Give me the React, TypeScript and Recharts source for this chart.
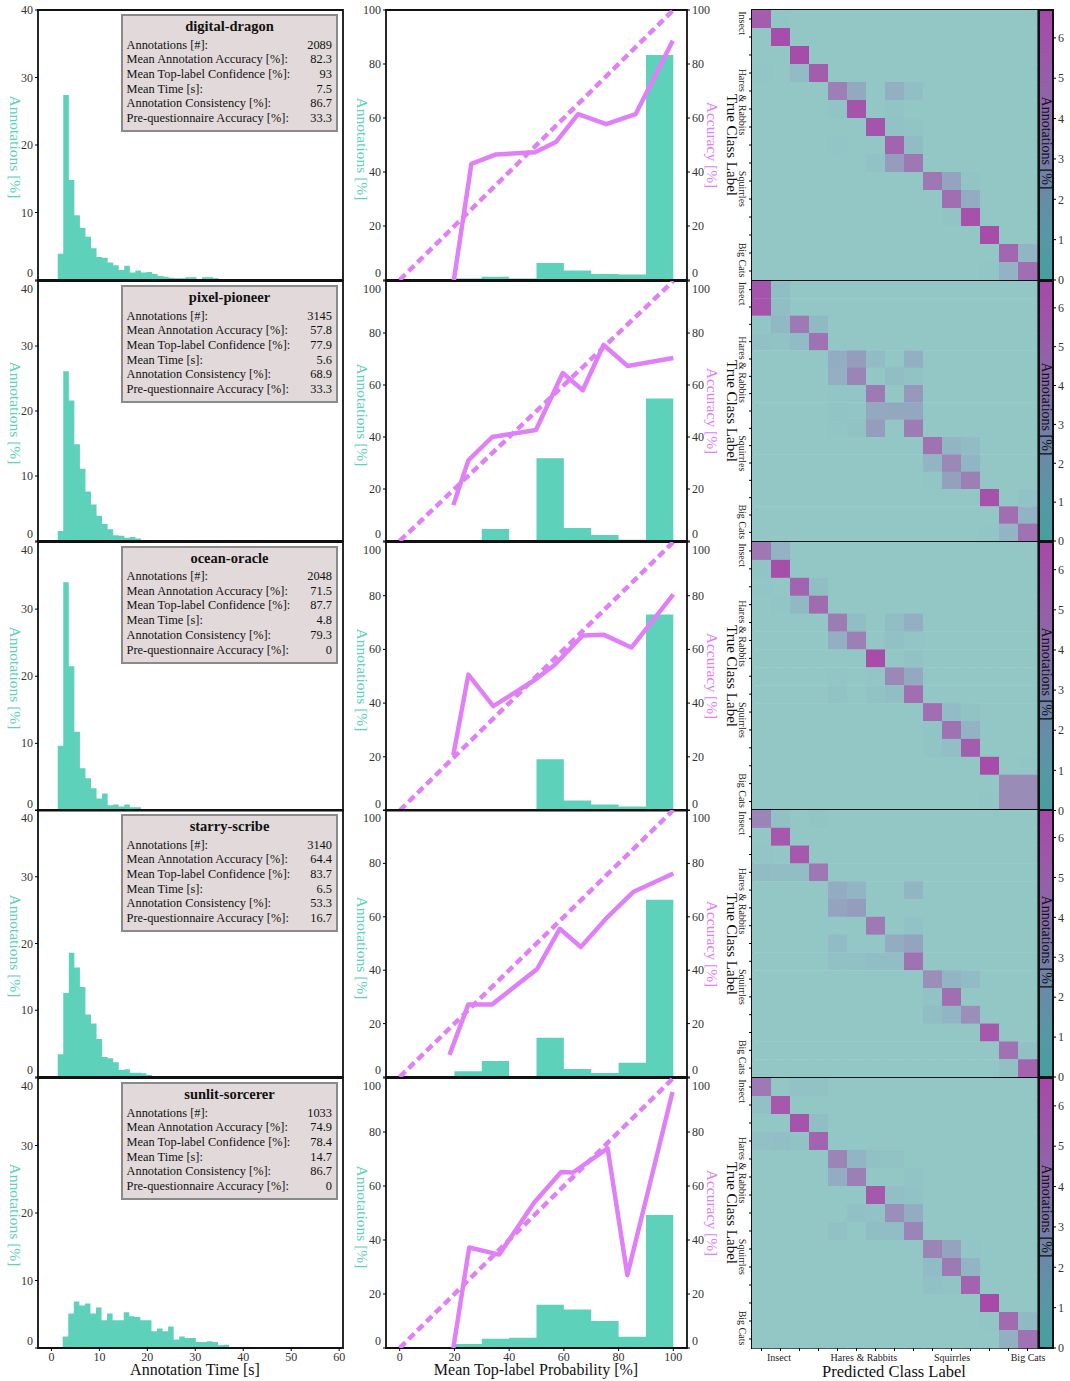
import React from "react";
import {
  ComposedChart,
  ScatterChart,
  Area,
  Line,
  Scatter,
  XAxis,
  YAxis,
  ReferenceArea,
} from "recharts";

// ---- data ----
const annotators = ["digital-dragon", "pixel-pioneer", "ocean-oracle", "starry-scribe", "sunlit-sorcerer"];

const statLabels = [
  "Annotations [#]:",
  "Mean Annotation Accuracy [%]:",
  "Mean Top-label Confidence [%]:",
  "Mean Time [s]:",
  "Annotation Consistency [%]:",
  "Pre-questionnaire Accuracy [%]:",
];

const statValues = [
  ["2089", "82.3", "93", "7.5", "86.7", "33.3"],
  ["3145", "57.8", "77.9", "5.6", "68.9", "33.3"],
  ["2048", "71.5", "87.7", "4.8", "79.3", "0"],
  ["3140", "64.4", "83.7", "6.5", "53.3", "16.7"],
  ["1033", "74.9", "78.4", "14.7", "86.7", "0"],
];

// annotation time histograms (% of annotations per bin)
const timeBinWidth = 1.157;
const timeBinStart = [1.31, 1.31, 1.31, 1.31, 2.35];
const timeHist = [
  [3.9, 27.4, 14.8, 9.6, 7.7, 6.4, 4.7, 3.4, 3.3, 2.6, 2.2, 1.5, 2.1, 1.1, 1.4, 1.1, 1.2, 0.9, 0.6, 0.5, 0.35, 0.25, 0.25, 0.4, 0.4, 0.15, 0.4, 0.4, 0.25],
  [1.55, 26.1, 21.6, 14.9, 11.1, 7.6, 5.6, 3.9, 2.6, 1.8, 0.9, 0.8, 0.5, 0.6, 0.4],
  [9.65, 34.0, 21.5, 11.75, 6.3, 4.8, 3.3, 1.8, 2.55, 0.8, 0.9, 0.6, 0.9, 0.5, 0.5],
  [3.4, 12.6, 18.6, 16.4, 13.5, 9.35, 8.0, 5.7, 3.0, 2.8, 2.2, 1.05, 1.15, 0.65, 0.65, 0.55, 0.3],
  [1.7, 5.1, 6.9, 6.3, 6.6, 5.1, 6.0, 4.1, 5.1, 4.1, 4.1, 5.3, 4.7, 4.6, 4.1, 4.1, 2.5, 2.9, 2.5, 3.2, 1.25, 1.7, 1.5, 1.5, 0.9, 0.9, 1.0, 0.9, 0.4, 0.5],
];
const timeTicks = [0, 10, 20, 30, 40, 50, 60];
const countTicks = [0, 10, 20, 30, 40];

// top-label confidence histograms, bins of 10 %
const confBins = [0, 10, 20, 30, 40, 50, 60, 70, 80, 90, 100];
const confHist = [
  [0, 0, 0.6, 1.2, 0.6, 6.3, 3.5, 2.2, 2.0, 83.3],
  [0, 0, 0.3, 4.6, 0.3, 31.8, 5.0, 2.3, 0.5, 54.8],
  [0, 0, 0, 0.5, 0.1, 19.1, 3.7, 2.2, 1.5, 73.0],
  [0, 0, 2.2, 6.0, 0, 14.7, 3.0, 1.5, 5.3, 66.4],
  [0, 0, 1.5, 3.4, 3.8, 16.0, 14.3, 10.0, 4.2, 49.3],
];
const probTicks = [0, 20, 40, 60, 80, 100];

// accuracy per confidence bin (x = mean confidence, y = accuracy)
const accX = [
  [19.8, 26.2, 35.2, 49.5, 57.1, 65.2, 75.5, 86.2, 99.8],
  [19.6, 25.1, 33.8, 49.8, 59.6, 66.9, 74.5, 83.3, 100],
  [19.6, 25.1, 34.2, 49.5, 56.7, 66.9, 74.5, 84.7, 100],
  [18.2, 25.1, 33.8, 50.2, 58.5, 66.2, 75.3, 85.5, 100],
  [19.6, 25.4, 36.4, 49.1, 59.0, 63.3, 76.0, 83.2, 99.7],
];
const accY = [
  [0, 43, 46.5, 47.3, 51.1, 61.4, 57.7, 61.4, 88.6],
  [13.8, 31, 40, 42.7, 64.6, 58, 75.4, 67.3, 70.4],
  [20.6, 50.6, 38.9, 48.7, 54.3, 65.2, 65.5, 60.7, 80.5],
  [8.3, 27.2, 27.2, 40.4, 55.5, 48.7, 59.2, 69.4, 76.2],
  [0, 37.2, 34.6, 53.8, 65.2, 65, 73.9, 27, 94.8],
];
const diagonal = [
  { x: 0, y: 0 },
  { x: 100, y: 100 },
];

// confusion matrices: [true row, predicted col, % of annotations], empty cells are 0
const classNames = ["Insect", "Hares & Rabbits", "Squirrles", "Big Cats"];
const classCount = 15;
const confusion: [number, number, number][][] = [
  [
    [0, 0, 5.8], [0, 1, 0.15], [1, 1, 6.4], [2, 2, 6.5],
    [3, 0, 0.1], [3, 2, 1.0], [3, 3, 5.8],
    [4, 4, 4.2], [4, 5, 2.2], [4, 7, 1.8], [4, 8, 0.7],
    [5, 4, 0.3], [5, 5, 6.2], [5, 7, 0.3],
    [6, 6, 6.2], [6, 7, 0.5], [6, 8, 0.3],
    [7, 4, 0.2], [7, 7, 5.5], [7, 8, 1.0],
    [8, 6, 0.5], [8, 7, 2.8], [8, 8, 4.6],
    [9, 9, 4.6], [9, 10, 2.5], [9, 11, 0.3],
    [10, 10, 5.0], [10, 11, 2.0],
    [11, 10, 0.3], [11, 11, 6.3],
    [12, 12, 6.5],
    [13, 13, 5.3], [13, 14, 1.5],
    [14, 12, 0.2], [14, 13, 1.6], [14, 14, 5.0],
  ],
  [
    [0, 0, 6.2], [0, 1, 0.8], [1, 0, 6.2], [1, 1, 0.8],
    [2, 0, 0.2], [2, 1, 1.2], [2, 2, 4.5], [2, 3, 1.2],
    [3, 0, 0.6], [3, 1, 0.4], [3, 2, 1.0], [3, 3, 4.8],
    [4, 4, 2.0], [4, 5, 2.8], [4, 6, 1.0], [4, 8, 1.8],
    [5, 4, 1.8], [5, 5, 4.0], [5, 7, 0.8], [5, 8, 0.4],
    [6, 4, 0.1], [6, 5, 0.2], [6, 6, 4.5], [6, 8, 3.0],
    [7, 4, 0.3], [7, 5, 0.2], [7, 6, 2.2], [7, 7, 2.3], [7, 8, 2.3],
    [8, 4, 0.1], [8, 5, 0.4], [8, 6, 2.8], [8, 8, 4.4],
    [9, 9, 4.8], [9, 10, 1.5], [9, 11, 1.0],
    [10, 9, 1.5], [10, 10, 3.8], [10, 11, 1.4],
    [11, 9, 0.1], [11, 10, 2.6], [11, 11, 4.2],
    [12, 12, 6.3], [12, 14, 0.5],
    [13, 13, 5.0], [13, 14, 1.6],
    [14, 12, 0.1], [14, 13, 1.5], [14, 14, 4.8],
  ],
  [
    [0, 0, 4.6], [0, 1, 1.6], [1, 0, 0.3], [1, 1, 6.4],
    [2, 0, 0.1], [2, 2, 5.5], [2, 3, 0.8],
    [3, 1, 0.1], [3, 2, 1.2], [3, 3, 5.2],
    [4, 4, 4.4], [4, 5, 0.8], [4, 7, 0.8], [4, 8, 1.8],
    [5, 4, 1.8], [5, 5, 4.2], [5, 7, 0.6], [5, 8, 0.2],
    [6, 6, 6.5], [6, 8, 0.4],
    [7, 4, 0.1], [7, 6, 0.2], [7, 7, 3.8], [7, 8, 2.2],
    [8, 4, 0.4], [8, 6, 0.4], [8, 7, 0.8], [8, 8, 5.0],
    [9, 9, 5.0], [9, 10, 1.0], [9, 11, 0.4],
    [10, 9, 0.3], [10, 10, 4.8], [10, 11, 1.6],
    [11, 9, 0.3], [11, 10, 0.7], [11, 11, 5.8],
    [12, 12, 6.5], [12, 14, 0.1],
    [13, 13, 3.6], [13, 14, 3.6],
    [14, 12, 0.1], [14, 13, 3.6], [14, 14, 3.6],
  ],
  [
    [0, 0, 4.0], [0, 1, 0.6], [0, 3, 0.3], [1, 1, 6.0],
    [2, 0, 0.2], [2, 2, 6.0],
    [3, 0, 1.0], [3, 1, 0.8], [3, 2, 0.8], [3, 3, 4.6],
    [4, 4, 2.0], [4, 5, 1.5], [4, 8, 1.5],
    [5, 4, 2.5], [5, 5, 2.8],
    [6, 6, 4.5], [6, 8, 0.5],
    [7, 4, 1.0], [7, 7, 2.0], [7, 8, 2.5],
    [8, 4, 0.6], [8, 5, 0.6], [8, 6, 0.8], [8, 7, 0.8], [8, 8, 4.8],
    [9, 9, 3.5], [9, 10, 1.5], [9, 11, 1.0],
    [10, 9, 0.4], [10, 10, 5.0],
    [11, 9, 0.8], [11, 10, 1.5], [11, 11, 3.5],
    [12, 12, 6.0],
    [13, 13, 4.8], [13, 14, 0.6],
    [14, 13, 0.6], [14, 14, 5.5],
  ],
  [
    [0, 0, 4.5], [0, 2, 0.5], [0, 3, 0.4],
    [1, 0, 0.6], [1, 1, 6.0],
    [2, 2, 6.2], [2, 3, 0.8],
    [3, 0, 0.6], [3, 1, 0.7], [3, 2, 0.4], [3, 3, 5.5],
    [4, 4, 4.0], [4, 5, 1.5], [4, 6, 0.6], [4, 7, 0.4],
    [5, 4, 2.0], [5, 5, 4.2], [5, 8, 0.3],
    [6, 6, 6.0], [6, 7, 0.7], [6, 8, 0.5],
    [7, 5, 0.6], [7, 6, 0.5], [7, 7, 3.5], [7, 8, 2.0],
    [8, 4, 0.6], [8, 6, 0.8], [8, 7, 0.8], [8, 8, 4.0],
    [9, 9, 4.0], [9, 10, 2.5], [9, 11, 0.2],
    [10, 9, 1.0], [10, 10, 4.5], [10, 11, 1.5],
    [11, 9, 0.6], [11, 10, 0.3], [11, 11, 5.5],
    [12, 12, 6.6],
    [13, 12, 0.1], [13, 13, 5.2], [13, 14, 1.2],
    [14, 13, 1.8], [14, 14, 4.8],
  ],
];
const colorbarTicks = [0, 1, 2, 3, 4, 5, 6];
const colorbarMax = 6.69;

// ---- layout / style ----
const FONT = '"Liberation Serif", "Times New Roman", "DejaVu Serif", serif';
const TEAL = "#5DD1B9";
const VIOLET = "#DF80F6";
const rowTop = [10, 281, 541.5, 810, 1078];
const rowBottom = [280, 541, 810, 1077, 1348];
const M_TOP = 10;
const X_H = 26;
const TICK_FS = 12;
const timeDomain: [number, number] = [-2.8, 60.8];
const probDomain: [number, number] = [-5, 105];
const xTickStyle = { fontSize: TICK_FS, fill: "#333", fontFamily: FONT };

// which tick carries a class name, and how far (in cells) the name is nudged from it
const classTickX = [1, 5, 10, 14];
const classNudgeX = [-0.08, 0.39, 0.03, 0.03];
const classTickY = [0, 5, 9, 13];
const classNudgeY = [0.23, -0.39, 0.44, 0.39];

const cbStops: [number, number[]][] = [
  [0, [70, 160, 158]],
  [0.15, [86, 152, 166]],
  [0.3, [102, 140, 168]],
  [0.45, [120, 123, 168]],
  [0.6, [136, 108, 168]],
  [0.75, [150, 94, 168]],
  [1, [168, 72, 168]],
];

function cbColor(f: number) {
  const t = Math.max(0, Math.min(1, f));
  for (let i = 1; i < cbStops.length; i++) {
    const [f0, c0] = cbStops[i - 1];
    const [f1, c1] = cbStops[i];
    if (t <= f1) {
      const k = (t - f0) / (f1 - f0);
      return c0.map((c, j) => c + (c1[j] - c) * k);
    }
  }
  return cbStops[cbStops.length - 1][1];
}

function cellColor(v: number) {
  const f = Math.min(1, v / colorbarMax);
  const c = cbColor(f);
  const a = 0.59 + 0.41 * f;
  const m = c.map((x) => Math.round(255 - a * (255 - x)));
  return `rgb(${m[0]},${m[1]},${m[2]})`;
}

function edgeTick(row: number, top: number, anchor: "start" | "end") {
  return (props: any) => {
    const { x, y, payload } = props;
    let dy = 0;
    if (payload.value === 0) dy = -7;
    else if (payload.value === top && row > 0) dy = 8;
    return (
      <text x={x} y={y + dy} textAnchor={anchor} dominantBaseline="central" fontSize={TICK_FS} fill="#333" fontFamily={FONT}>
        {payload.value}
      </text>
    );
  };
}

function TimePanel({ row }: { row: number }) {
  const h = rowBottom[row] - rowTop[row];
  const values = timeHist[row];
  const data = values.map((v, i) => ({ t: timeBinStart[row] + i * timeBinWidth, v }));
  data.push({ t: timeBinStart[row] + values.length * timeBinWidth, v: 0 });
  const last = row === 4;
  return (
    <div style={{ position: "absolute", left: 8, top: rowTop[row] - M_TOP }}>
      <ComposedChart width={341} height={M_TOP + h + X_H} data={data} margin={{ top: M_TOP, right: 6, bottom: 0, left: 0 }}>
        <XAxis
          type="number"
          dataKey="t"
          domain={timeDomain}
          ticks={timeTicks}
          allowDataOverflow
          interval={0}
          height={X_H}
          axisLine={false}
          stroke="#000"
          tickSize={3}
          tickMargin={1}
          tick={last ? xTickStyle : false}
        />
        <YAxis
          type="number"
          domain={[0, 40]}
          ticks={countTicks}
          allowDataOverflow
          interval={0}
          width={30}
          axisLine={false}
          stroke="#000"
          tickSize={3}
          tick={edgeTick(row, 40, "end")}
        />
        <Area
          type="stepAfter"
          dataKey="v"
          stroke="none"
          fill={TEAL}
          fillOpacity={1}
          isAnimationActive={false}
          dot={false}
          activeDot={false}
        />
        <ReferenceArea x1={timeDomain[0]} x2={timeDomain[1]} y1={0} y2={40} fill="none" stroke="#111" strokeWidth={1.8} />
      </ComposedChart>
    </div>
  );
}

function ConfPanel({ row }: { row: number }) {
  const h = rowBottom[row] - rowTop[row];
  const bars = confBins.map((b, i) => ({ x: b, bar: i < confHist[row].length ? confHist[row][i] : 0 }));
  const acc = accX[row].map((x, i) => ({ x, y: accY[row][i] }));
  const last = row === 4;
  return (
    <div style={{ position: "absolute", left: 356, top: rowTop[row] - M_TOP }}>
      <ComposedChart width={361} height={M_TOP + h + X_H} data={bars} margin={{ top: M_TOP, right: 0, bottom: 0, left: 0 }}>
        <XAxis
          type="number"
          dataKey="x"
          domain={probDomain}
          ticks={probTicks}
          allowDataOverflow
          interval={0}
          height={X_H}
          axisLine={false}
          stroke="#000"
          tickSize={3}
          tickMargin={1}
          tick={last ? xTickStyle : false}
        />
        <YAxis
          yAxisId="left"
          type="number"
          domain={[0, 100]}
          ticks={probTicks}
          allowDataOverflow
          interval={0}
          width={30}
          axisLine={false}
          stroke="#000"
          tickSize={3}
          tick={edgeTick(row, 100, "end")}
        />
        <YAxis
          yAxisId="right"
          orientation="right"
          type="number"
          domain={[0, 100]}
          ticks={probTicks}
          allowDataOverflow
          interval={0}
          width={30}
          axisLine={false}
          stroke="#000"
          tickSize={3}
          tick={edgeTick(row, 100, "start")}
        />
        <Area
          yAxisId="left"
          type="stepAfter"
          dataKey="bar"
          stroke="none"
          fill={TEAL}
          fillOpacity={1}
          isAnimationActive={false}
          dot={false}
          activeDot={false}
        />
        <Line
          yAxisId="right"
          data={diagonal}
          dataKey="y"
          stroke={VIOLET}
          strokeWidth={4.5}
          strokeDasharray="8 4.5"
          dot={false}
          activeDot={false}
          isAnimationActive={false}
        />
        <Line
          yAxisId="right"
          data={acc}
          dataKey="y"
          type="linear"
          stroke={VIOLET}
          strokeWidth={4.5}
          strokeLinejoin="round"
          dot={false}
          activeDot={false}
          isAnimationActive={false}
        />
        <ReferenceArea yAxisId="left" x1={probDomain[0]} x2={probDomain[1]} y1={0} y2={100} fill="none" stroke="#111" strokeWidth={1.8} />
      </ComposedChart>
    </div>
  );
}

function MatrixPanel({ row }: { row: number }) {
  const h = rowBottom[row] - rowTop[row];
  const plotW = 285;
  const plotLeft = 20;
  const rightRoom = 24;
  const cellW = plotW / classCount;
  const cellH = h / classCount;
  const plotBottom = M_TOP + h;
  const values = new Map<number, number>();
  confusion[row].forEach(([r, c, v]) => values.set(r * classCount + c, v));
  const cells: { x: number; y: number; v: number }[] = [];
  for (let r = 0; r < classCount; r++) {
    for (let c = 0; c < classCount; c++) {
      cells.push({ x: c + 0.5, y: r + 0.5, v: values.get(r * classCount + c) ?? 0 });
    }
  }
  const centers = Array.from({ length: classCount }, (_, i) => i + 0.5);
  const last = row === 4;

  const xTick = (props: any) => {
    const { x, payload } = props;
    const idx = Math.round(payload.value - 0.5);
    const k = classTickX.indexOf(idx);
    return (
      <g>
        <line x1={x} x2={x} y1={plotBottom} y2={plotBottom + 3} stroke="#000" />
        {k >= 0 && (
          <text x={x + classNudgeX[k] * cellW} y={plotBottom + 9.5} textAnchor="middle" dominantBaseline="central" fontSize={10} fill="#222" fontFamily={FONT}>
            {classNames[k]}
          </text>
        )}
      </g>
    );
  };

  const yTick = (props: any) => {
    const { y, payload } = props;
    const idx = Math.round(payload.value - 0.5);
    const k = classTickY.indexOf(idx);
    const lx = plotLeft - 10;
    const ly = k >= 0 ? y + classNudgeY[k] * cellH : y;
    return (
      <g>
        <line x1={plotLeft - 3} x2={plotLeft} y1={y} y2={y} stroke="#000" />
        {k >= 0 && (
          <text x={lx} y={ly} transform={`rotate(90 ${lx} ${ly})`} textAnchor="middle" dominantBaseline="central" fontSize={10} fill="#222" fontFamily={FONT}>
            {classNames[k]}
          </text>
        )}
      </g>
    );
  };

  return (
    <div style={{ position: "absolute", left: 752 - plotLeft, top: rowTop[row] - M_TOP }}>
      <ScatterChart width={plotLeft + plotW + rightRoom} height={M_TOP + h + X_H} margin={{ top: M_TOP, right: rightRoom, bottom: 0, left: 0 }}>
        <XAxis
          type="number"
          dataKey="x"
          domain={[0, classCount]}
          ticks={centers}
          interval={0}
          height={X_H}
          axisLine={false}
          tickLine={false}
          tick={last ? xTick : false}
        />
        <YAxis
          type="number"
          dataKey="y"
          domain={[0, classCount]}
          reversed
          ticks={centers}
          interval={0}
          width={plotLeft}
          axisLine={false}
          tickLine={false}
          tick={yTick}
        />
        <Scatter
          data={cells}
          isAnimationActive={false}
          shape={(p: any) => (
            <rect
              x={p.cx - cellW / 2}
              y={p.cy - cellH / 2}
              width={cellW + 0.4}
              height={cellH + 0.4}
              fill={cellColor(p.payload ? p.payload.v : p.v)}
            />
          )}
        />
        <ReferenceArea x1={0} x2={classCount} y1={0} y2={classCount} fill="none" stroke="#111" strokeWidth={2} />
      </ScatterChart>
    </div>
  );
}

function ColorBar({ row }: { row: number }) {
  const h = rowBottom[row] - rowTop[row];
  const id = `cbar${row}`;
  const points = colorbarTicks.map((v) => ({ x: 0.5, y: v }));
  return (
    <div style={{ position: "absolute", left: 1037, top: rowTop[row] - M_TOP }}>
      <ComposedChart width={33} height={M_TOP + h + 10} data={points} margin={{ top: M_TOP, right: 0, bottom: 10, left: 2 }}>
        <defs>
          <linearGradient id={id} x1="0" y1="1" x2="0" y2="0">
            {cbStops.map(([f, c]) => (
              <stop key={f} offset={f} stopColor={`rgb(${c[0]},${c[1]},${c[2]})`} />
            ))}
          </linearGradient>
        </defs>
        <XAxis type="number" dataKey="x" domain={[0, 1]} hide />
        <YAxis
          orientation="right"
          type="number"
          dataKey="y"
          domain={[0, colorbarMax]}
          ticks={colorbarTicks}
          allowDataOverflow
          interval={0}
          width={17}
          axisLine={false}
          stroke="#000"
          tickSize={3}
          tick={{ fontSize: TICK_FS, fill: "#333", fontFamily: FONT }}
        />
        <ReferenceArea x1={0} x2={1} y1={0} y2={colorbarMax} fill={`url(#${id})`} fillOpacity={1} stroke="#111" strokeWidth={2} />
      </ComposedChart>
    </div>
  );
}

function StatsBox({ row }: { row: number }) {
  return (
    <div
      style={{
        position: "absolute",
        left: 121,
        top: rowTop[row] + 4,
        width: 217,
        height: 118,
        boxSizing: "border-box",
        background: "#E2DADA",
        border: "2px solid #8A8A8A",
        fontFamily: FONT,
        color: "#111",
      }}
    >
      <div style={{ position: "absolute", left: 0, right: 0, top: 2, textAlign: "center", fontWeight: "bold", fontSize: 14.5, lineHeight: "17px" }}>
        {annotators[row]}
      </div>
      {statLabels.map((label, i) => (
        <div
          key={label}
          style={{
            position: "absolute",
            left: 3.5,
            right: 4,
            top: 20.5 + i * 14.7,
            height: 16,
            lineHeight: "16px",
            fontSize: 12.4,
            display: "flex",
            justifyContent: "space-between",
            whiteSpace: "nowrap",
          }}
        >
          <span>{label}</span>
          <span>{statValues[row][i]}</span>
        </div>
      ))}
    </div>
  );
}

function VLabel({ x, y, text, color, size }: { x: number; y: number; text: string; color: string; size: number }) {
  return (
    <div
      style={{
        position: "absolute",
        left: x,
        top: y,
        transform: "translate(-50%, -50%) rotate(90deg)",
        color,
        fontSize: size,
        fontFamily: FONT,
        whiteSpace: "nowrap",
        lineHeight: 1,
      }}
    >
      {text}
    </div>
  );
}

function HLabel({ x, y, text, size }: { x: number; y: number; text: string; size: number }) {
  return (
    <div
      style={{
        position: "absolute",
        left: x,
        top: y,
        transform: "translate(-50%, -50%)",
        color: "#111",
        fontSize: size,
        fontFamily: FONT,
        whiteSpace: "nowrap",
        lineHeight: 1,
      }}
    >
      {text}
    </div>
  );
}

export default function App() {
  const rows = [0, 1, 2, 3, 4];
  return (
    <div style={{ position: "absolute", left: 0, top: 0, width: 1070, height: 1381, background: "#fff", overflow: "hidden" }}>
      <style>{"body{margin:0;overflow:hidden}"}</style>
      {rows.map((r) => (
        <React.Fragment key={r}>
          <TimePanel row={r} />
          <ConfPanel row={r} />
          <MatrixPanel row={r} />
          <ColorBar row={r} />
        </React.Fragment>
      ))}
      {rows.map((r) => {
        const mid = (rowTop[r] + rowBottom[r]) / 2;
        return (
          <React.Fragment key={`l${r}`}>
            <StatsBox row={r} />
            <VLabel x={15} y={mid + 2} text="Annotations [%]" color={TEAL} size={15.5} />
            <VLabel x={362} y={mid + 4} text="Annotations [%]" color={TEAL} size={15.5} />
            <VLabel x={712} y={mid} text="Accuracy [%]" color={VIOLET} size={15.5} />
            <VLabel x={731} y={mid} text="True Class Label" color="#111" size={15} />
            <VLabel x={1046} y={mid - 2} text="Annotations [%]" color="#111" size={14} />
          </React.Fragment>
        );
      })}
      <HLabel x={195} y={1370} text="Annotation Time [s]" size={16} />
      <HLabel x={536} y={1370} text="Mean Top-label Probability [%]" size={16} />
      <HLabel x={894} y={1372} text="Predicted Class Label" size={16.5} />
    </div>
  );
}
